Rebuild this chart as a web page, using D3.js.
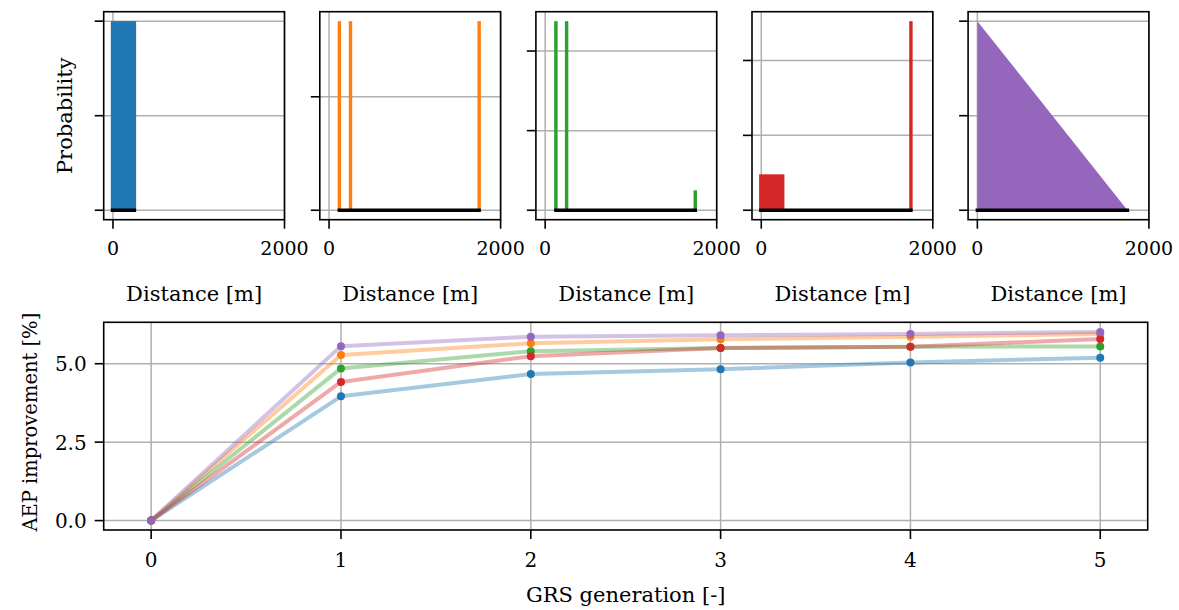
<!DOCTYPE html>
<html>
<head>
<meta charset="utf-8">
<script src="https://cdn.jsdelivr.net/npm/d3@7"></script>
<style>
  body { margin: 0; background: #fff; }
  svg text { font-family: "DejaVu Serif", serif; fill: #000; }
</style>
</head>
<body>
<svg id="chart" width="1179" height="610"></svg>
<script>
// Top row: distance distributions (one per scenario)
const colors = ['#1f77b4', '#ff7f0e', '#2ca02c', '#d62728', '#9467bd'];

// bars: [x0, x1, probability]
const bars1 = [[-25, 270, 1]];
const bars2 = [[100, 140, 1 / 3], [230, 270, 1 / 3], [1730, 1770, 1 / 3]];
const bars3 = [[105, 145, 0.475], [230, 270, 0.475], [1730, 1770, 0.05]];
const bars4 = [[-25, 270, 0.096], [1725, 1765, 0.505]];
const triangle5 = [[0, 1], [1750, 0]];

const yTicks1 = [0, 0.5, 1];
const yTicks2 = [0, 0.2];
const yTicks3 = [0, 0.2, 0.4];
const yTicks4 = [0, 0.2, 0.4];
const yTicks5 = [0, 0.5, 1];

const yMax = [1, 1 / 3, 0.475, 0.505, 1];
const spans = [[-25, 270], [100, 1770], [105, 1770], [-25, 1765], [-20, 1770]];
const distTicks = [0, 2000];

// Bottom: AEP improvement per GRS generation
const generations = [0, 1, 2, 3, 4, 5];
const aepBlue   = [0, 3.96, 4.67, 4.82, 5.04, 5.19];
const aepOrange = [0, 5.28, 5.65, 5.78, 5.86, 5.95];
const aepGreen  = [0, 4.85, 5.40, 5.50, 5.54, 5.55];
const aepRed    = [0, 4.42, 5.24, 5.50, 5.54, 5.79];
const aepPurple = [0, 5.56, 5.86, 5.91, 5.95, 6.01];
const aepTicks = [0, 2.5, 5.0];

const svg = d3.select('#chart');
const gridColor = '#b0b0b0';

function drawFrame(g, w, h) {
    g.append('rect').attr('x', 0).attr('y', 0).attr('width', w).attr('height', h)
        .attr('fill', 'none').attr('stroke', '#000').attr('stroke-width', 1.6);
}

// ---- top panels
const panelLeft = 103.7, panelStep = 216.1, panelW = 180.8;
const panelTop = 11.7, panelH = 208;
const panels = [
    { bars: bars1, ticks: yTicks1 },
    { bars: bars2, ticks: yTicks2 },
    { bars: bars3, ticks: yTicks3 },
    { bars: bars4, ticks: yTicks4 },
    { tri: triangle5, ticks: yTicks5 }
];

panels.forEach((p, i) => {
    const g = svg.append('g').attr('transform', `translate(${panelLeft + i * panelStep},${panelTop})`);
    const x = d3.scaleLinear().domain([-108, 2000]).range([0, panelW]);
    const m = yMax[i] * 0.05;
    const y = d3.scaleLinear().domain([-m, yMax[i] + m]).range([panelH, 0]);

    // grid
    g.selectAll('.vg').data(distTicks).enter().append('line')
        .attr('x1', d => x(d)).attr('x2', d => x(d)).attr('y1', 0).attr('y2', panelH)
        .attr('stroke', gridColor).attr('stroke-width', 1.5);
    g.selectAll('.hg').data(p.ticks).enter().append('line')
        .attr('x1', 0).attr('x2', panelW).attr('y1', d => y(d)).attr('y2', d => y(d))
        .attr('stroke', gridColor).attr('stroke-width', 1.5);

    if (p.bars) {
        g.selectAll('.bar').data(p.bars).enter().append('rect')
            .attr('x', d => x(d[0])).attr('width', d => x(d[1]) - x(d[0]))
            .attr('y', d => y(d[2])).attr('height', d => y(0) - y(d[2]))
            .attr('fill', colors[i]);
    } else {
        const area = d3.area().x(d => x(d[0])).y0(y(0)).y1(d => y(d[1]));
        g.append('path').datum(p.tri).attr('d', area).attr('fill', colors[i]);
    }

    // black range line
    g.append('line').attr('x1', x(spans[i][0])).attr('x2', x(spans[i][1]))
        .attr('y1', y(0)).attr('y2', y(0)).attr('stroke', '#000').attr('stroke-width', 3.5);

    // ticks
    g.selectAll('.yt').data(p.ticks).enter().append('line')
        .attr('x1', -9).attr('x2', 0).attr('y1', d => y(d)).attr('y2', d => y(d))
        .attr('stroke', '#000').attr('stroke-width', 1.6);
    g.selectAll('.xt').data(distTicks).enter().append('line')
        .attr('x1', d => x(d)).attr('x2', d => x(d)).attr('y1', panelH).attr('y2', panelH + 9)
        .attr('stroke', '#000').attr('stroke-width', 1.6);
    g.selectAll('.xl').data(distTicks).enter().append('text')
        .attr('x', d => x(d)).attr('y', panelH + 35)
        .attr('text-anchor', 'middle').attr('font-size', 19).text(d => d);

    g.append('text').attr('x', panelW / 2).attr('y', panelH + 81)
        .attr('text-anchor', 'middle').attr('font-size', 21).text('Distance [m]');

    drawFrame(g, panelW, panelH);
});

svg.append('text')
    .attr('transform', `translate(72,${panelTop + panelH / 2}) rotate(-90)`)
    .attr('text-anchor', 'middle').attr('font-size', 21).text('Probability');

// ---- bottom chart
const bL = 103.7, bT = 322.3, bW = 1044, bH = 207.7;
const gb = svg.append('g').attr('transform', `translate(${bL},${bT})`);
const xb = d3.scaleLinear().domain([-0.25, 5.25]).range([0, bW]);
const yb = d3.scaleLinear().domain([-0.3, 6.32]).range([bH, 0]);

gb.selectAll('.vg').data(generations).enter().append('line')
    .attr('x1', d => xb(d)).attr('x2', d => xb(d)).attr('y1', 0).attr('y2', bH)
    .attr('stroke', gridColor).attr('stroke-width', 1.5);
gb.selectAll('.hg').data(aepTicks).enter().append('line')
    .attr('x1', 0).attr('x2', bW).attr('y1', d => yb(d)).attr('y2', d => yb(d))
    .attr('stroke', gridColor).attr('stroke-width', 1.5);

const series = [aepBlue, aepOrange, aepGreen, aepRed, aepPurple];
const line = d3.line().x((d, i) => xb(generations[i])).y(d => yb(d));
series.forEach((s, i) => {
    gb.append('path').datum(s).attr('d', line).attr('fill', 'none')
        .attr('stroke', colors[i]).attr('stroke-opacity', 0.4).attr('stroke-width', 4)
        .attr('stroke-linejoin', 'round');
});
series.forEach((s, i) => {
    gb.selectAll('.pt' + i).data(s).enter().append('circle')
        .attr('cx', (d, j) => xb(generations[j])).attr('cy', d => yb(d))
        .attr('r', 4).attr('fill', colors[i]);
});

gb.selectAll('.yt').data(aepTicks).enter().append('line')
    .attr('x1', -9).attr('x2', 0).attr('y1', d => yb(d)).attr('y2', d => yb(d))
    .attr('stroke', '#000').attr('stroke-width', 1.6);
gb.selectAll('.yl').data(aepTicks).enter().append('text')
    .attr('x', -17).attr('y', d => yb(d) + 7.5)
    .attr('text-anchor', 'end').attr('font-size', 20).text(d => d.toFixed(1));
gb.selectAll('.xt').data(generations).enter().append('line')
    .attr('x1', d => xb(d)).attr('x2', d => xb(d)).attr('y1', bH).attr('y2', bH + 9)
    .attr('stroke', '#000').attr('stroke-width', 1.6);
gb.selectAll('.xl').data(generations).enter().append('text')
    .attr('x', d => xb(d)).attr('y', bH + 37)
    .attr('text-anchor', 'middle').attr('font-size', 20).text(d => d);

drawFrame(gb, bW, bH);

svg.append('text').attr('x', bL + bW / 2).attr('y', 602)
    .attr('text-anchor', 'middle').attr('font-size', 21).text('GRS generation [-]');
svg.append('text')
    .attr('transform', `translate(37,${bT + bH / 2 - 4}) rotate(-90)`)
    .attr('text-anchor', 'middle').attr('font-size', 19.5).text('AEP improvement [%]');
</script>
</body>
</html>
